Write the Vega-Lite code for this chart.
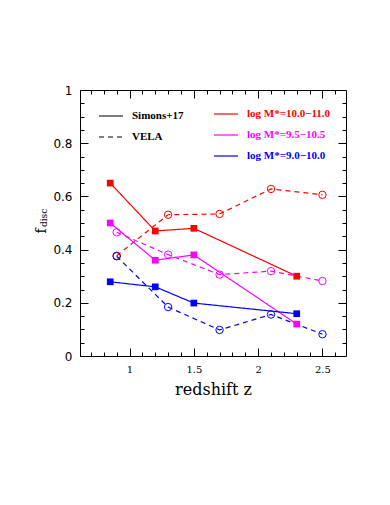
{
  "$schema": "https://vega.github.io/schema/vega-lite/v6.json",
  "width": 266,
  "height": 266,
  "autosize": {"type": "none"},
  "padding": {"left": 80, "top": 90, "right": 44, "bottom": 149},
  "background": "white",
  "config": {
    "view": {"stroke": "black", "strokeWidth": 1},
    "axis": {"grid": false, "domain": false, "tickColor": "black", "labelColor": "black", "titleColor": "black", "tickWidth": 1}
  },
  "data": {
    "values": [
      {"z": 0.85, "f": 0.65, "type": "Simons+17", "mass": "log M*=10.0−11.0"},
      {"z": 1.2, "f": 0.47, "type": "Simons+17", "mass": "log M*=10.0−11.0"},
      {"z": 1.5, "f": 0.48, "type": "Simons+17", "mass": "log M*=10.0−11.0"},
      {"z": 2.3, "f": 0.30, "type": "Simons+17", "mass": "log M*=10.0−11.0"},
      {"z": 0.9, "f": 0.377, "type": "VELA", "mass": "log M*=10.0−11.0"},
      {"z": 1.3, "f": 0.531, "type": "VELA", "mass": "log M*=10.0−11.0"},
      {"z": 1.7, "f": 0.534, "type": "VELA", "mass": "log M*=10.0−11.0"},
      {"z": 2.1, "f": 0.628, "type": "VELA", "mass": "log M*=10.0−11.0"},
      {"z": 2.5, "f": 0.606, "type": "VELA", "mass": "log M*=10.0−11.0"},
      {"z": 0.85, "f": 0.50, "type": "Simons+17", "mass": "log M*=9.5−10.5"},
      {"z": 1.2, "f": 0.36, "type": "Simons+17", "mass": "log M*=9.5−10.5"},
      {"z": 1.5, "f": 0.38, "type": "Simons+17", "mass": "log M*=9.5−10.5"},
      {"z": 2.3, "f": 0.12, "type": "Simons+17", "mass": "log M*=9.5−10.5"},
      {"z": 0.9, "f": 0.465, "type": "VELA", "mass": "log M*=9.5−10.5"},
      {"z": 1.3, "f": 0.381, "type": "VELA", "mass": "log M*=9.5−10.5"},
      {"z": 1.7, "f": 0.306, "type": "VELA", "mass": "log M*=9.5−10.5"},
      {"z": 2.1, "f": 0.319, "type": "VELA", "mass": "log M*=9.5−10.5"},
      {"z": 2.5, "f": 0.282, "type": "VELA", "mass": "log M*=9.5−10.5"},
      {"z": 0.85, "f": 0.279, "type": "Simons+17", "mass": "log M*=9.0−10.0"},
      {"z": 1.2, "f": 0.26, "type": "Simons+17", "mass": "log M*=9.0−10.0"},
      {"z": 1.5, "f": 0.199, "type": "Simons+17", "mass": "log M*=9.0−10.0"},
      {"z": 2.3, "f": 0.159, "type": "Simons+17", "mass": "log M*=9.0−10.0"},
      {"z": 0.9, "f": 0.375, "type": "VELA", "mass": "log M*=9.0−10.0"},
      {"z": 1.3, "f": 0.184, "type": "VELA", "mass": "log M*=9.0−10.0"},
      {"z": 1.7, "f": 0.098, "type": "VELA", "mass": "log M*=9.0−10.0"},
      {"z": 2.1, "f": 0.156, "type": "VELA", "mass": "log M*=9.0−10.0"},
      {"z": 2.5, "f": 0.082, "type": "VELA", "mass": "log M*=9.0−10.0"}
    ]
  },
  "resolve": {"axis": {"x": "independent", "y": "independent"}, "legend": {"color": "independent", "strokeDash": "independent"}},
  "layer": [
    {
      "mark": {"type": "line", "strokeWidth": 1.2},
      "encoding": {
        "x": {
          "field": "z", "type": "quantitative",
          "scale": {"domain": [0.615, 2.683], "nice": false, "zero": false},
          "axis": {
            "orient": "bottom", "values": [1, 1.5, 2, 2.5], "tickSize": -8,
            "labelExpr": "'' + round(datum.value*10)/10",
            "labelFont": "DejaVu Serif", "labelFontSize": 10, "labelPadding": 16,
            "title": "redshift z", "titleFont": "DejaVu Serif", "titleFontSize": 16, "titleFontWeight": "normal", "titlePadding": 7
          }
        },
        "y": {
          "field": "f", "type": "quantitative",
          "scale": {"domain": [0, 1], "nice": false},
          "axis": {
            "orient": "left", "values": [0, 0.2, 0.4, 0.6, 0.8, 1], "tickSize": -8,
            "labelExpr": "'' + round(datum.value*10)/10",
            "labelFont": "DejaVu Sans", "labelFontSize": 12, "labelPadding": 16,
            "title": null
          }
        },
        "color": {
          "field": "mass", "type": "nominal",
          "scale": {"domain": ["log M*=10.0−11.0", "log M*=9.5−10.5", "log M*=9.0−10.0"], "range": ["#ff0000", "#ff00ff", "#0000ff"]},
          "legend": {
            "orient": "none", "legendX": 133, "legendY": 11, "direction": "vertical", "title": null, "padding": 0,
            "symbolType": "stroke", "symbolSize": 576, "symbolStrokeWidth": 1.2, "labelOffset": 8, "rowPadding": 3,
            "labelFont": "Liberation Serif", "labelFontWeight": "bold", "labelFontSize": 11, "labelLimit": 300,
            "encode": {"labels": {"update": {"fill": {"scale": "color", "field": "value"}}}}
          }
        },
        "strokeDash": {
          "field": "type", "type": "nominal",
          "scale": {"domain": ["Simons+17", "VELA"], "range": [[1, 0], [5, 4]]},
          "legend": {
            "orient": "none", "legendX": 18, "legendY": 13, "direction": "vertical", "title": null, "padding": 0,
            "symbolType": "stroke", "symbolSize": 576, "symbolStrokeWidth": 1.2, "symbolStrokeColor": "black", "labelOffset": 8, "rowPadding": 3,
            "labelFont": "Liberation Serif", "labelFontWeight": "bold", "labelFontSize": 11, "labelColor": "black", "labelLimit": 300
          }
        }
      }
    },
    {
      "transform": [{"filter": "datum.type == 'Simons+17'"}],
      "mark": {"type": "point", "shape": "square", "filled": true, "size": 45, "opacity": 1},
      "encoding": {
        "x": {"field": "z", "type": "quantitative", "axis": null},
        "y": {"field": "f", "type": "quantitative", "axis": null},
        "color": {"field": "mass", "type": "nominal", "legend": null}
      }
    },
    {
      "transform": [{"filter": "datum.type == 'VELA'"}],
      "mark": {"type": "point", "shape": "circle", "filled": false, "size": 55, "strokeWidth": 1, "opacity": 1},
      "encoding": {
        "x": {"field": "z", "type": "quantitative", "axis": null},
        "y": {"field": "f", "type": "quantitative", "axis": null},
        "color": {"field": "mass", "type": "nominal", "legend": null}
      }
    },
    {
      "mark": {"type": "point", "opacity": 0},
      "encoding": {
        "x": {
          "field": "z", "type": "quantitative",
          "axis": {"orient": "bottom", "labels": false, "title": null, "tickSize": -4,
            "values": [0.7, 0.8, 0.9, 1.1, 1.2, 1.3, 1.4, 1.6, 1.7, 1.8, 1.9, 2.1, 2.2, 2.3, 2.4, 2.6]}
        },
        "y": {
          "field": "f", "type": "quantitative",
          "axis": {"orient": "left", "labels": false, "title": null, "tickSize": -4,
            "values": [0.05, 0.1, 0.15, 0.25, 0.3, 0.35, 0.45, 0.5, 0.55, 0.65, 0.7, 0.75, 0.85, 0.9, 0.95]}
        }
      }
    },
    {
      "mark": {"type": "point", "opacity": 0},
      "encoding": {
        "x": {
          "field": "z", "type": "quantitative",
          "axis": {"orient": "top", "labels": false, "title": null, "tickSize": -8, "values": [1, 1.5, 2, 2.5]}
        },
        "y": {
          "field": "f", "type": "quantitative",
          "axis": {"orient": "right", "labels": false, "title": null, "tickSize": -8, "values": [0.2, 0.4, 0.6, 0.8]}
        }
      }
    },
    {
      "mark": {"type": "point", "opacity": 0},
      "encoding": {
        "x": {
          "field": "z", "type": "quantitative",
          "axis": {"orient": "top", "labels": false, "title": null, "tickSize": -4,
            "values": [0.7, 0.8, 0.9, 1.1, 1.2, 1.3, 1.4, 1.6, 1.7, 1.8, 1.9, 2.1, 2.2, 2.3, 2.4, 2.6]}
        },
        "y": {
          "field": "f", "type": "quantitative",
          "axis": {"orient": "right", "labels": false, "title": null, "tickSize": -4,
            "values": [0.05, 0.1, 0.15, 0.25, 0.3, 0.35, 0.45, 0.5, 0.55, 0.65, 0.7, 0.75, 0.85, 0.9, 0.95]}
        }
      }
    },
    {
      "data": {"values": [{"t": "f"}]},
      "mark": {"type": "text", "angle": 270, "align": "center", "baseline": "alphabetic", "font": "DejaVu Serif", "fontSize": 14, "color": "black"},
      "encoding": {
        "x": {"datum": 0.3506, "type": "quantitative", "axis": null},
        "y": {"datum": 0.47, "type": "quantitative", "axis": null},
        "text": {"field": "t"}
      }
    },
    {
      "data": {"values": [{"t": "disc"}]},
      "mark": {"type": "text", "angle": 270, "align": "center", "baseline": "alphabetic", "font": "DejaVu Serif", "fontSize": 9, "color": "black"},
      "encoding": {
        "x": {"datum": 0.3584, "type": "quantitative", "axis": null},
        "y": {"datum": 0.519, "type": "quantitative", "axis": null},
        "text": {"field": "t"}
      }
    }
  ]
}
